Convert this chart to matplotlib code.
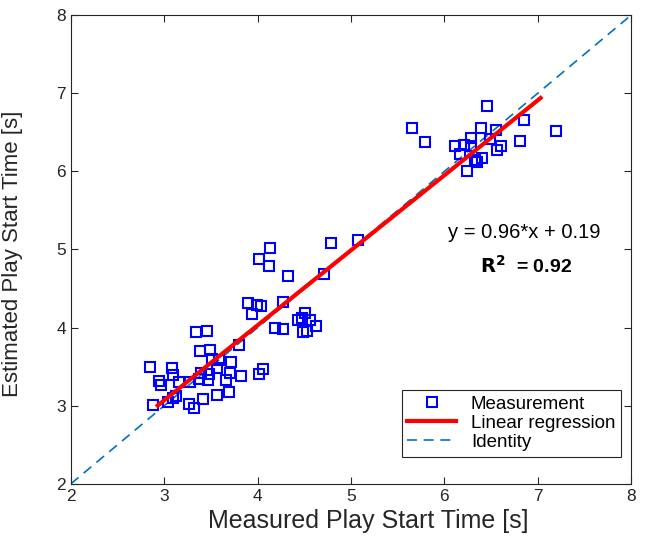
import matplotlib.pyplot as plt
import numpy as np

plt.rcParams['font.family'] = ['Liberation Sans', 'DejaVu Sans']

# measured (x) and estimated (y) play start times [s]
measured = [
    2.85, 3.08, 3.38, 3.49, 3.51, 3.59, 3.71, 3.80, 3.34, 3.46,
    2.94, 2.97, 3.09, 3.16, 3.28, 3.39, 3.48, 3.47, 3.37, 3.57,
    3.66, 3.70, 3.82, 4.02, 4.06, 2.88, 3.04, 3.09, 3.13, 3.26,
    3.32, 3.41, 3.56, 3.69,
    3.90, 3.94, 3.99, 4.04, 4.27, 4.19, 4.27, 4.13, 4.02, 4.12,
    4.33, 4.79, 4.71, 5.08, 4.43, 4.51, 4.48, 4.56, 4.63, 4.49, 4.53,
    6.46, 5.65, 5.79, 6.39, 6.55, 6.85, 7.19, 6.28, 6.49, 6.11,
    6.21, 6.28, 6.81, 6.61, 6.17, 6.56, 6.33, 6.40, 6.35, 6.24,
]
estimated = [
    3.50, 3.48, 3.70, 3.71, 3.60, 3.59, 3.56, 3.78, 3.95, 3.96,
    3.32, 3.27, 3.39, 3.30, 3.30, 3.42, 3.40, 3.33, 3.34, 3.48,
    3.33, 3.42, 3.38, 3.41, 3.47, 3.01, 3.05, 3.10, 3.12, 3.02,
    2.97, 3.09, 3.14, 3.18,
    4.32, 4.18, 4.29, 4.28, 4.33, 4.00, 3.98, 5.02, 4.88, 4.79,
    4.66, 5.08, 4.69, 5.12, 4.10, 4.19, 4.12, 4.10, 4.02, 3.94, 3.96,
    6.84, 6.56, 6.37, 6.56, 6.53, 6.66, 6.52, 6.43, 6.42, 6.33,
    6.34, 6.32, 6.39, 6.32, 6.22, 6.27, 6.15, 6.17, 6.12, 6.00,
]

slope, intercept = 0.96, 0.19
fit_x = np.array([2.93, 7.03])
identity = np.array([2, 8])

fig = plt.figure(figsize=(6.5, 5.4), dpi=100)
ax = fig.add_axes([0.109, 0.104, 0.862, 0.868])

ax.plot(measured, estimated, 's', color='#0000ff', markerfacecolor='none',
        markersize=7.5, markeredgewidth=1.5, label='Measurement', zorder=3)
ax.plot(fit_x, slope * fit_x + intercept, '-', color='#ff0000', linewidth=3,
        label='Linear regression', zorder=4)
ax.plot(identity, identity, '--', color='#0072BD', linewidth=1.2,
        dashes=(6, 4), label='Identity', zorder=2)

ax.text(6.86, 5.22, 'y = 0.96*x + 0.19', ha='center', va='center', fontsize=14.5)
ax.text(6.87, 4.79, r'$\mathbf{R}^{\mathbf{2}}$  = 0.92', ha='center', va='center',
        fontsize=14, fontweight='bold')

ax.set_xlim(2, 8)
ax.set_ylim(2, 8)
ax.set_xticks(range(2, 9))
ax.set_yticks(range(2, 9))
ax.tick_params(direction='in', length=5, labelsize=12.5, colors='#262626',
               top=True, right=True)
for s in ax.spines.values():
    s.set_color('#262626')
    s.set_linewidth(0.8)

ax.set_xlabel('Measured Play Start Time [s]', fontsize=18, color='#262626')
ax.set_ylabel('Estimated Play Start Time [s]', fontsize=16, color='#262626')
ax.xaxis.set_label_coords(0.53, -0.053)
ax.yaxis.set_label_coords(-0.085, 0.49)

leg = ax.legend(loc='lower right', bbox_to_anchor=(0.982, 0.058), borderaxespad=0,
                fontsize=13.5, fancybox=False, framealpha=1,
                edgecolor='#262626', handlelength=2.6, labelspacing=0.1,
                borderpad=0.3, handletextpad=0.8)
leg.get_frame().set_linewidth(0.8)

fig.savefig('out.png', dpi=100)
